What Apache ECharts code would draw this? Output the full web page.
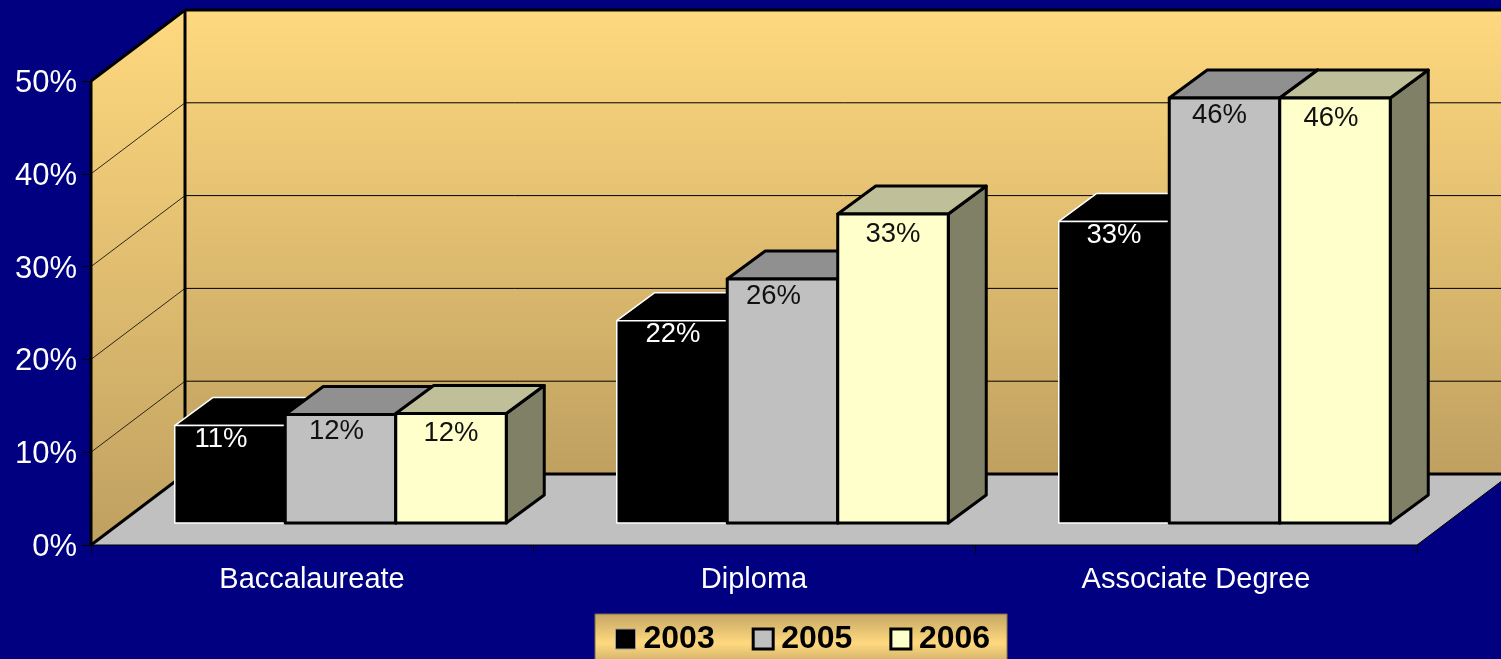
<!DOCTYPE html>
<html>
<head>
<meta charset="utf-8">
<style>html,body{margin:0;padding:0;background:#000080;overflow:hidden}#c{width:1501px;height:659px}</style>
<script src="https://cdn.jsdelivr.net/npm/echarts@6/dist/echarts.min.js"></script>
</head>
<body>
<div id="c"></div>
<script>
const categories = ['Baccalaureate', 'Diploma', 'Associate Degree'];
const years = ['2003', '2005', '2006'];
const values2003 = [10.5, 21.8, 32.5];
const values2005 = [11.7, 26.3, 45.8];
const values2006 = [11.8, 33.3, 45.8];
const yTicks = [0, 10, 20, 30, 40, 50];

const FONT = '"Liberation Sans", Arial, sans-serif';
const wallDepth = [94, -71];     // back wall offset
const barFront = [28.5, -22];    // bar front-plane offset
const barDepth = [38, -28];      // bar depth
const barShare = 0.25;
const labelX = [[-9, 1, 0], [-4, -9, -5], [0, 0, -4]];
const styles = [
  { front: '#000000', top: '#000000', side: '#000000', border: '#ffffff', bw: 1.5, text: '#ffffff', dy: 14 },
  { front: '#c0c0c0', top: '#909090', side: '#909090', border: '#000000', bw: 3, text: '#111111', dy: 17 },
  { front: '#ffffcc', top: '#bfbf99', side: '#808066', border: '#000000', bw: 3, text: '#111111', dy: 20 }
];

const wallFill = { type: 'linear', x: 0, y: 0, x2: 0, y2: 1, colorStops: [
  { offset: 0, color: '#ffd97f' }, { offset: 1, color: '#bfa060' } ] };

function poly(points, fill, stroke, lw) {
  return { type: 'polygon', shape: { points }, style: { fill, stroke: stroke || 'none', lineWidth: lw || 0, lineJoin: 'round' }, silent: true };
}
function seg(a, b, lw) {
  return { type: 'line', shape: { x1: a[0], y1: a[1], x2: b[0], y2: b[1] }, style: { stroke: '#000', lineWidth: lw }, silent: true };
}
const off = (p, d) => [p[0] + d[0], p[1] + d[1]];

function renderWalls(params, api) {
  const band = api.size([1, 0])[0];
  const x0 = api.coord([0, 0])[0] - band / 2;
  const x1 = x0 + band * categories.length;
  const yOf = v => api.coord([0, v])[1];
  const y0 = yOf(0), yT = yOf(yTicks[yTicks.length - 1]);
  const fl = [x0, y0], fr = [x1, y0], tl = [x0, yT];
  const kids = [
    poly([fl, fr, off(fr, wallDepth), off(fl, wallDepth)], '#c0c0c0'),
    poly([off(fl, wallDepth), off(fr, wallDepth), off([x1, yT], wallDepth), off(tl, wallDepth)], wallFill),
    poly([fl, tl, off(tl, wallDepth), off(fl, wallDepth)], wallFill)
  ];
  yTicks.slice(1, -1).forEach(t => {
    const p = [x0, yOf(t)], q = off(p, wallDepth);
    kids.push(seg(p, q, 0.8), seg(q, off([x1, yOf(t)], wallDepth), 1));
  });
  kids.push(
    seg(fl, tl, 3),
    seg(tl, off(tl, wallDepth), 3),
    seg(off(tl, wallDepth), off([x1, yT], wallDepth), 3),
    seg(off(fl, wallDepth), off(tl, wallDepth), 3),
    seg(fl, off(fl, wallDepth), 3),
    seg(off(fl, wallDepth), off(fr, wallDepth), 3),
    seg(fl, fr, 1.2),
    seg(fr, off(fr, wallDepth), 1)
  );
  return { type: 'group', children: kids };
}

function barRenderer(si) {
  const st = styles[si];
  return function (params, api) {
    const cat = api.value(0), v = api.value(1);
    const band = api.size([1, 0])[0];
    const w = band * barShare;
    const c = api.coord([cat, 0]);
    const top = api.coord([cat, v]);
    const left = c[0] + barFront[0] + (si - 1.5) * w;
    const right = left + w;
    const yb = c[1] + barFront[1], yt = top[1] + barFront[1];
    const fl = [left, yb], fr = [right, yb], tl = [left, yt], tr = [right, yt];
    return { type: 'group', children: [
      poly([fr, off(fr, barDepth), off(tr, barDepth), tr], st.side, st.border, st.bw),
      poly([tl, tr, off(tr, barDepth), off(tl, barDepth)], st.top, st.border, st.bw),
      poly([fl, fr, tr, tl], st.front, st.border, st.bw)
    ] };
  };
}

function labelRenderer(si) {
  const st = styles[si];
  return function (params, api) {
    const cat = api.value(0), v = api.value(1);
    const band = api.size([1, 0])[0];
    const w = band * barShare;
    const c = api.coord([cat, 0]);
    const top = api.coord([cat, v]);
    const cx = c[0] + barFront[0] + (si - 1) * w + labelX[si][cat];
    return { type: 'text', silent: true, style: {
      x: cx, y: top[1] + barFront[1] + st.dy,
      text: Math.round(v) + '%', fill: st.text,
      font: '27.5px ' + FONT, align: 'center', verticalAlign: 'middle' } };
  };
}

const seriesValues = [values2003, values2005, values2006];
const series = [{
  type: 'custom', name: 'walls', silent: true, z: 1, renderItem: renderWalls,
  data: [[0, 0]], encode: { x: 0, y: 1 }, animation: false
}];
years.forEach((y, si) => series.push({
  type: 'custom', name: y, z: 2 + si, silent: true, animation: false,
  renderItem: barRenderer(si), encode: { x: 0, y: 1 },
  data: seriesValues[si].map((v, i) => [i, v])
}));
years.forEach((y, si) => series.push({
  type: 'custom', name: y + ' labels', z: 8, silent: true, animation: false,
  renderItem: labelRenderer(si), encode: { x: 0, y: 1 },
  data: seriesValues[si].map((v, i) => [i, v])
}));

const chart = echarts.init(document.getElementById('c'), null, { renderer: 'canvas', width: 1501, height: 659 });
chart.setOption({
  animation: false,
  backgroundColor: '#000080',
  grid: { left: 91, width: 1326, top: 81, height: 464, containLabel: false },
  xAxis: {
    type: 'category', data: categories,
    axisLine: { show: false },
    axisTick: { show: true, length: 8, lineStyle: { color: '#000', width: 1 } },
    axisLabel: { color: '#fff', fontFamily: FONT, fontSize: 29, margin: 20 },
    splitLine: { show: false }
  },
  yAxis: {
    type: 'value', min: 0, max: 50, interval: 10,
    axisLine: { show: false },
    axisTick: { show: true, length: 9, lineStyle: { color: '#000', width: 1 } },
    axisLabel: {
      margin: 14,
      formatter: v => '{t|' + v + '%}',
      rich: { t: { color: '#fff', fontFamily: FONT, fontSize: 31, padding: [5, 0, 0, 0] } }
    },
    splitLine: { show: false }
  },
  legend: {
    left: 595, top: 614, orient: 'horizontal',
    padding: [9, 17, 12, 20],
    itemWidth: 20, itemHeight: 20, itemGap: 37,
    selectedMode: false,
    icon: 'rect',
    backgroundColor: { type: 'linear', x: 0, y: 0, x2: 0, y2: 1, colorStops: [
      { offset: 0, color: '#c4a664' }, { offset: 0.55, color: '#ffd97f' }, { offset: 1, color: '#c4a664' } ] },
    borderColor: '#7d6c45', borderWidth: 1,
    textStyle: { color: '#000', fontFamily: FONT, fontWeight: 'bold', fontSize: 32, padding: [0, 0, 0, 3] },
    data: years.map((y, si) => ({
      name: y,
      itemStyle: { color: styles[si].front, borderColor: si ? '#000' : '#999', borderWidth: si ? 3 : 1 }
    }))
  },
  series
});
</script>
</body>
</html>
